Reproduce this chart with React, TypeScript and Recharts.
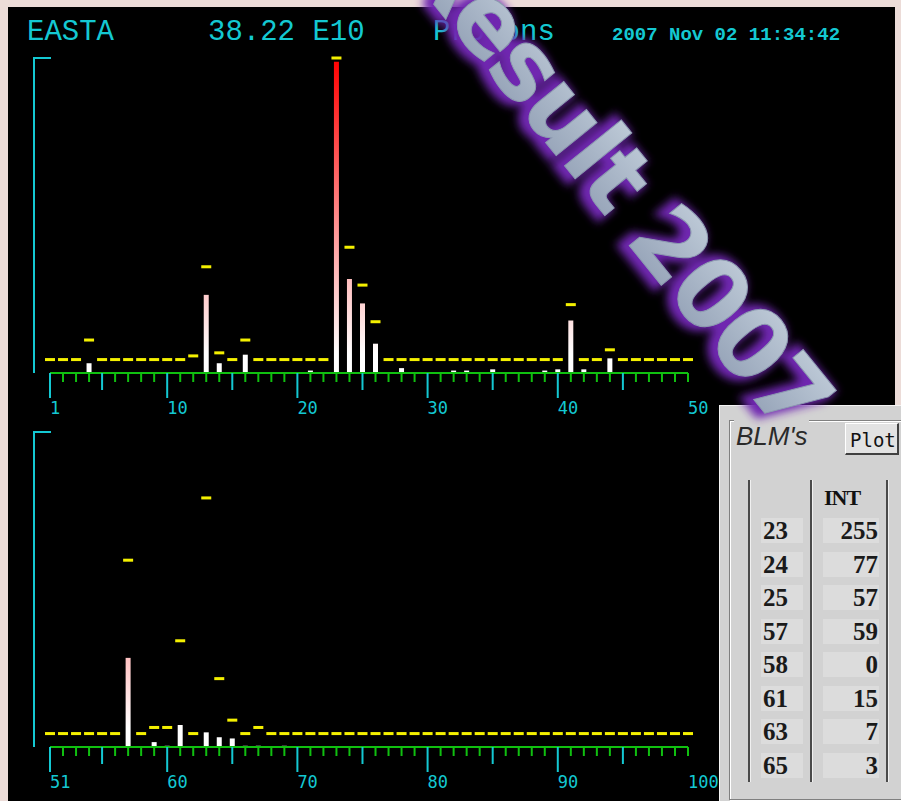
import React from "react";
import { ComposedChart, Bar, Scatter, XAxis, YAxis, ReferenceLine } from "recharts";

// channel numbers of the two crates
const topChannels = [
  1, 2, 3, 4, 5, 6, 7, 8, 9, 10, 11, 12, 13, 14, 15, 16, 17, 18, 19, 20, 21, 22, 23, 24, 25,
  26, 27, 28, 29, 30, 31, 32, 33, 34, 35, 36, 37, 38, 39, 40, 41, 42, 43, 44, 45, 46, 47, 48, 49, 50,
];
const bottomChannels = [
  51, 52, 53, 54, 55, 56, 57, 58, 59, 60, 61, 62, 63, 64, 65, 66, 67, 68, 69, 70, 71, 72, 73, 74, 75,
  76, 77, 78, 79, 80, 81, 82, 83, 84, 85, 86, 87, 88, 89, 90, 91, 92, 93, 94, 95, 96, 97, 98, 99, 100,
];

// measured loss per channel
const topLoss = [
  0, 0, 0, 8, 0, 0, 0, 0, 0, 0, 0, 0, 64, 8, 0, 15, 0, 0, 0, 0, 2, 0, 255, 77, 57,
  24, 0, 4, 0, 0, 0, 2, 2, 0, 3, 0, 0, 0, 2, 3, 43, 3, 0, 12, 0, 0, 0, 0, 0, 0,
];
const bottomLoss = [
  0, 0, 0, 0, 0, 0, 73, 0, 4, 1, 18, 0, 12, 8, 7, 1, 1, 0, 1, 0, 0, 0, 0, 0, 0,
  0, 0, 0, 0, 0, 0, 0, 0, 0, 0, 0, 0, 0, 0, 0, 0, 0, 0, 0, 0, 0, 0, 0, 0, 0,
];

// threshold marks (yellow dashes)
const topThreshold = [
  11, 11, 11, 27, 11, 11, 11, 11, 11, 11, 11, 14, 87, 16.5, 11, 27, 11, 11, 11, 11, 11, 11, 258, 103, 72,
  42, 11, 11, 11, 11, 11, 11, 11, 11, 11, 11, 11, 11, 11, 11, 56, 11, 11, 19, 11, 11, 11, 11, 11, 11,
];
const bottomThreshold = [
  11, 11, 11, 11, 11, 11, 153, 11, 16, 16, 87, 11, 204, 56, 22, 11, 16, 11, 11, 11, 11, 11, 11, 11, 11,
  11, 11, 11, 11, 11, 11, 11, 11, 11, 11, 11, 11, 11, 11, 11, 11, 11, 11, 11, 11, 11, 11, 11, 11, 11,
];

const topLabels = [1, 10, 20, 30, 40, 50];
const bottomLabels = [51, 60, 70, 80, 90, 100];

// BLM side table
const blmIds = ["23", "24", "25", "57", "58", "61", "63", "65"];
const blmInt = ["255", "77", "57", "59", "0", "15", "7", "3"];

const CYAN = "#14c8d2";
const GREEN = "#10c010";
const YELLOW = "#f4f000";
const PANEL = "#d2d2d2";

const Dash = (p: any) => (
  <rect x={p.cx - 5} y={p.cy - 1.5} width={10} height={3} fill={YELLOW} />
);

function makeTick(labels: number[], last: number) {
  return (p: any) => {
    const v = p.payload.value;
    let len = 9;
    let color = GREEN;
    if (v !== last && labels.includes(v)) {
      len = 25;
      color = CYAN;
    } else if (v !== last && v % 5 === 0) {
      len = 17;
      color = CYAN;
    }
    return (
      <g>
        <line x1={p.x} x2={p.x} y1={p.y} y2={p.y + len} stroke={color} strokeWidth={2} />
        {labels.includes(v) && (
          <text
            x={p.x}
            y={p.y + 41}
            fill={CYAN}
            fontSize={17}
            fontFamily="DejaVu Sans Mono"
            textAnchor="start"
          >
            {v}
          </text>
        )}
      </g>
    );
  };
}

const YCap = (p: any) => (
  <line x1={p.x - 1} x2={p.x + 17} y1={p.y} y2={p.y} stroke={CYAN} strokeWidth={2} />
);

function LossChart({ channels, loss, thr, labels, top, gradId }: any) {
  const data = channels.map((ch: number, i: number) => ({ ch, loss: loss[i], thr: thr[i] }));
  const first = channels[0];
  const last = channels[channels.length - 1];
  return (
    <div style={{ position: "absolute", left: 0, top }}>
      <ComposedChart width={720} height={420} data={data} margin={{ top: 58, right: 30, left: 0, bottom: 0 }}>
        <defs>
          <linearGradient id={gradId} gradientUnits="userSpaceOnUse" x1="0" y1="373" x2="0" y2="58">
            <stop offset="0" stopColor="#ffffff" />
            <stop offset="0.06" stopColor="#ffffff" />
            <stop offset="1" stopColor="#ff0000" />
          </linearGradient>
        </defs>
        <XAxis
          dataKey="ch"
          type="number"
          domain={[first, last]}
          ticks={channels}
          interval={0}
          padding={{ left: 16, right: 2 }}
          height={47}
          axisLine={false}
          tickLine={false}
          tickSize={0}
          tickMargin={0}
          tick={makeTick(labels, last)}
        />
        <YAxis
          type="number"
          domain={[0, 258]}
          ticks={[258]}
          width={34}
          axisLine={{ stroke: CYAN, strokeWidth: 2 }}
          tickLine={false}
          tickSize={0}
          tickMargin={0}
          tick={YCap}
        />
        <ReferenceLine
          segment={[
            { x: first, y: 0 },
            { x: last, y: 0 },
          ]}
          stroke={GREEN}
          strokeWidth={2}
        />
        <Bar dataKey="loss" barSize={5} fill={`url(#${gradId})`} isAnimationActive={false} />
        <Scatter dataKey="thr" shape={Dash} isAnimationActive={false} />
      </ComposedChart>
    </div>
  );
}

export default function App() {
  return (
    <div style={{ position: "absolute", left: 0, top: 0, width: 901, height: 801, overflow: "hidden", background: "#ecdcd8" }}>
      <div style={{ position: "absolute", left: 8, top: 7, width: 887, height: 794, background: "#000" }} />

      <svg width={901} height={60} style={{ position: "absolute", left: 0, top: 0 }}>
        <g fill={CYAN} fontFamily="Liberation Mono" fontSize={29}>
          <text x={27} y={40}>EASTA</text>
          <text x={208} y={40}>38.22 E10</text>
          <text x={433} y={40}>Protons</text>
        </g>
        <text x={612} y={40} fill={CYAN} fontFamily="Liberation Mono" fontSize={19} fontWeight="bold">
          2007 Nov 02 11:34:42
        </text>
      </svg>

      <LossChart channels={topChannels} loss={topLoss} thr={topThreshold} labels={topLabels} top={0} gradId="gTop" />
      <LossChart channels={bottomChannels} loss={bottomLoss} thr={bottomThreshold} labels={bottomLabels} top={374} gradId="gBot" />

      {/* BLM's panel */}
      <div style={{ position: "absolute", left: 719, top: 405, width: 182, height: 396, background: PANEL, borderTop: "1px solid #f4f4f4", borderLeft: "1px solid #f4f4f4" }}>
        <div style={{ position: "absolute", left: 9, top: 14, width: 200, height: 378, border: "1px solid #808080", boxShadow: "inset 1px 1px 0 #fff, 1px 1px 0 #fff" }} />
        <div style={{ position: "absolute", left: 14, top: 14, padding: "0 2px", background: PANEL, fontFamily: "Liberation Sans", fontStyle: "italic", fontSize: 26, color: "#2a2a2a", lineHeight: "32px" }}>
          BLM's
        </div>
        <div style={{ position: "absolute", left: 125, top: 17, width: 54, height: 32, background: "#e2e2e2", borderTop: "1px solid #fff", borderLeft: "1px solid #fff", borderRight: "2px solid #404040", borderBottom: "2px solid #404040", fontFamily: "DejaVu Sans Mono", fontSize: 19, color: "#111", lineHeight: "32px", paddingLeft: 4, boxSizing: "border-box" }}>
          Plot
        </div>
        {[28, 90, 166].map((x) => (
          <div key={x} style={{ position: "absolute", left: x, top: 74, width: 2, height: 302, background: "#4a4a4a", borderRight: "1px solid #f0f0f0" }} />
        ))}
        <div style={{ position: "absolute", left: 104, top: 80, fontFamily: "Liberation Serif", fontWeight: "bold", fontSize: 22, letterSpacing: -1, color: "#111", lineHeight: "24px" }}>
          INT
        </div>
        {blmIds.map((id, i) => (
          <React.Fragment key={id}>
            <div style={{ position: "absolute", left: 41, top: 112 + i * 33.5, width: 42, height: 25, background: "#dcdcdc" }} />
            <div style={{ position: "absolute", left: 103, top: 112 + i * 33.5, width: 56, height: 25, background: "#dcdcdc" }} />
            <div style={{ position: "absolute", left: 43, top: 110 + i * 33.5, fontFamily: "Liberation Serif", fontWeight: "bold", fontSize: 25, color: "#1a1a1a", lineHeight: "30px" }}>
              {id}
            </div>
            <div style={{ position: "absolute", left: 103, width: 55, textAlign: "right", top: 110 + i * 33.5, fontFamily: "Liberation Serif", fontWeight: "bold", fontSize: 25, color: "#1a1a1a", lineHeight: "30px" }}>
              {blmInt[i]}
            </div>
          </React.Fragment>
        ))}
      </div>

      {/* watermark */}
      <svg width={901} height={801} style={{ position: "absolute", left: 0, top: 0, pointerEvents: "none" }}>
        <defs>
          <filter id="glow" x="-20%" y="-20%" width="140%" height="140%">
            <feGaussianBlur stdDeviation="4" />
          </filter>
          <linearGradient id="wmFill" x1="0" y1="0" x2="0" y2="1">
            <stop offset="0" stopColor="#c4d0dc" />
            <stop offset="1" stopColor="#8e9cb2" />
          </linearGradient>
        </defs>
        <g transform="translate(785,438) rotate(51)" fontFamily="DejaVu Sans" fontWeight="bold" fontSize={96} textAnchor="end" letterSpacing={-3}>
          <text x={-4} y={5} fill="#7028b0" stroke="#7028b0" strokeWidth={10} filter="url(#glow)">
            Result 2007
          </text>
          <text x={0} y={0} fill="url(#wmFill)" stroke="#8c9ab0" strokeWidth={1}>
            Result 2007
          </text>
        </g>
      </svg>
    </div>
  );
}
